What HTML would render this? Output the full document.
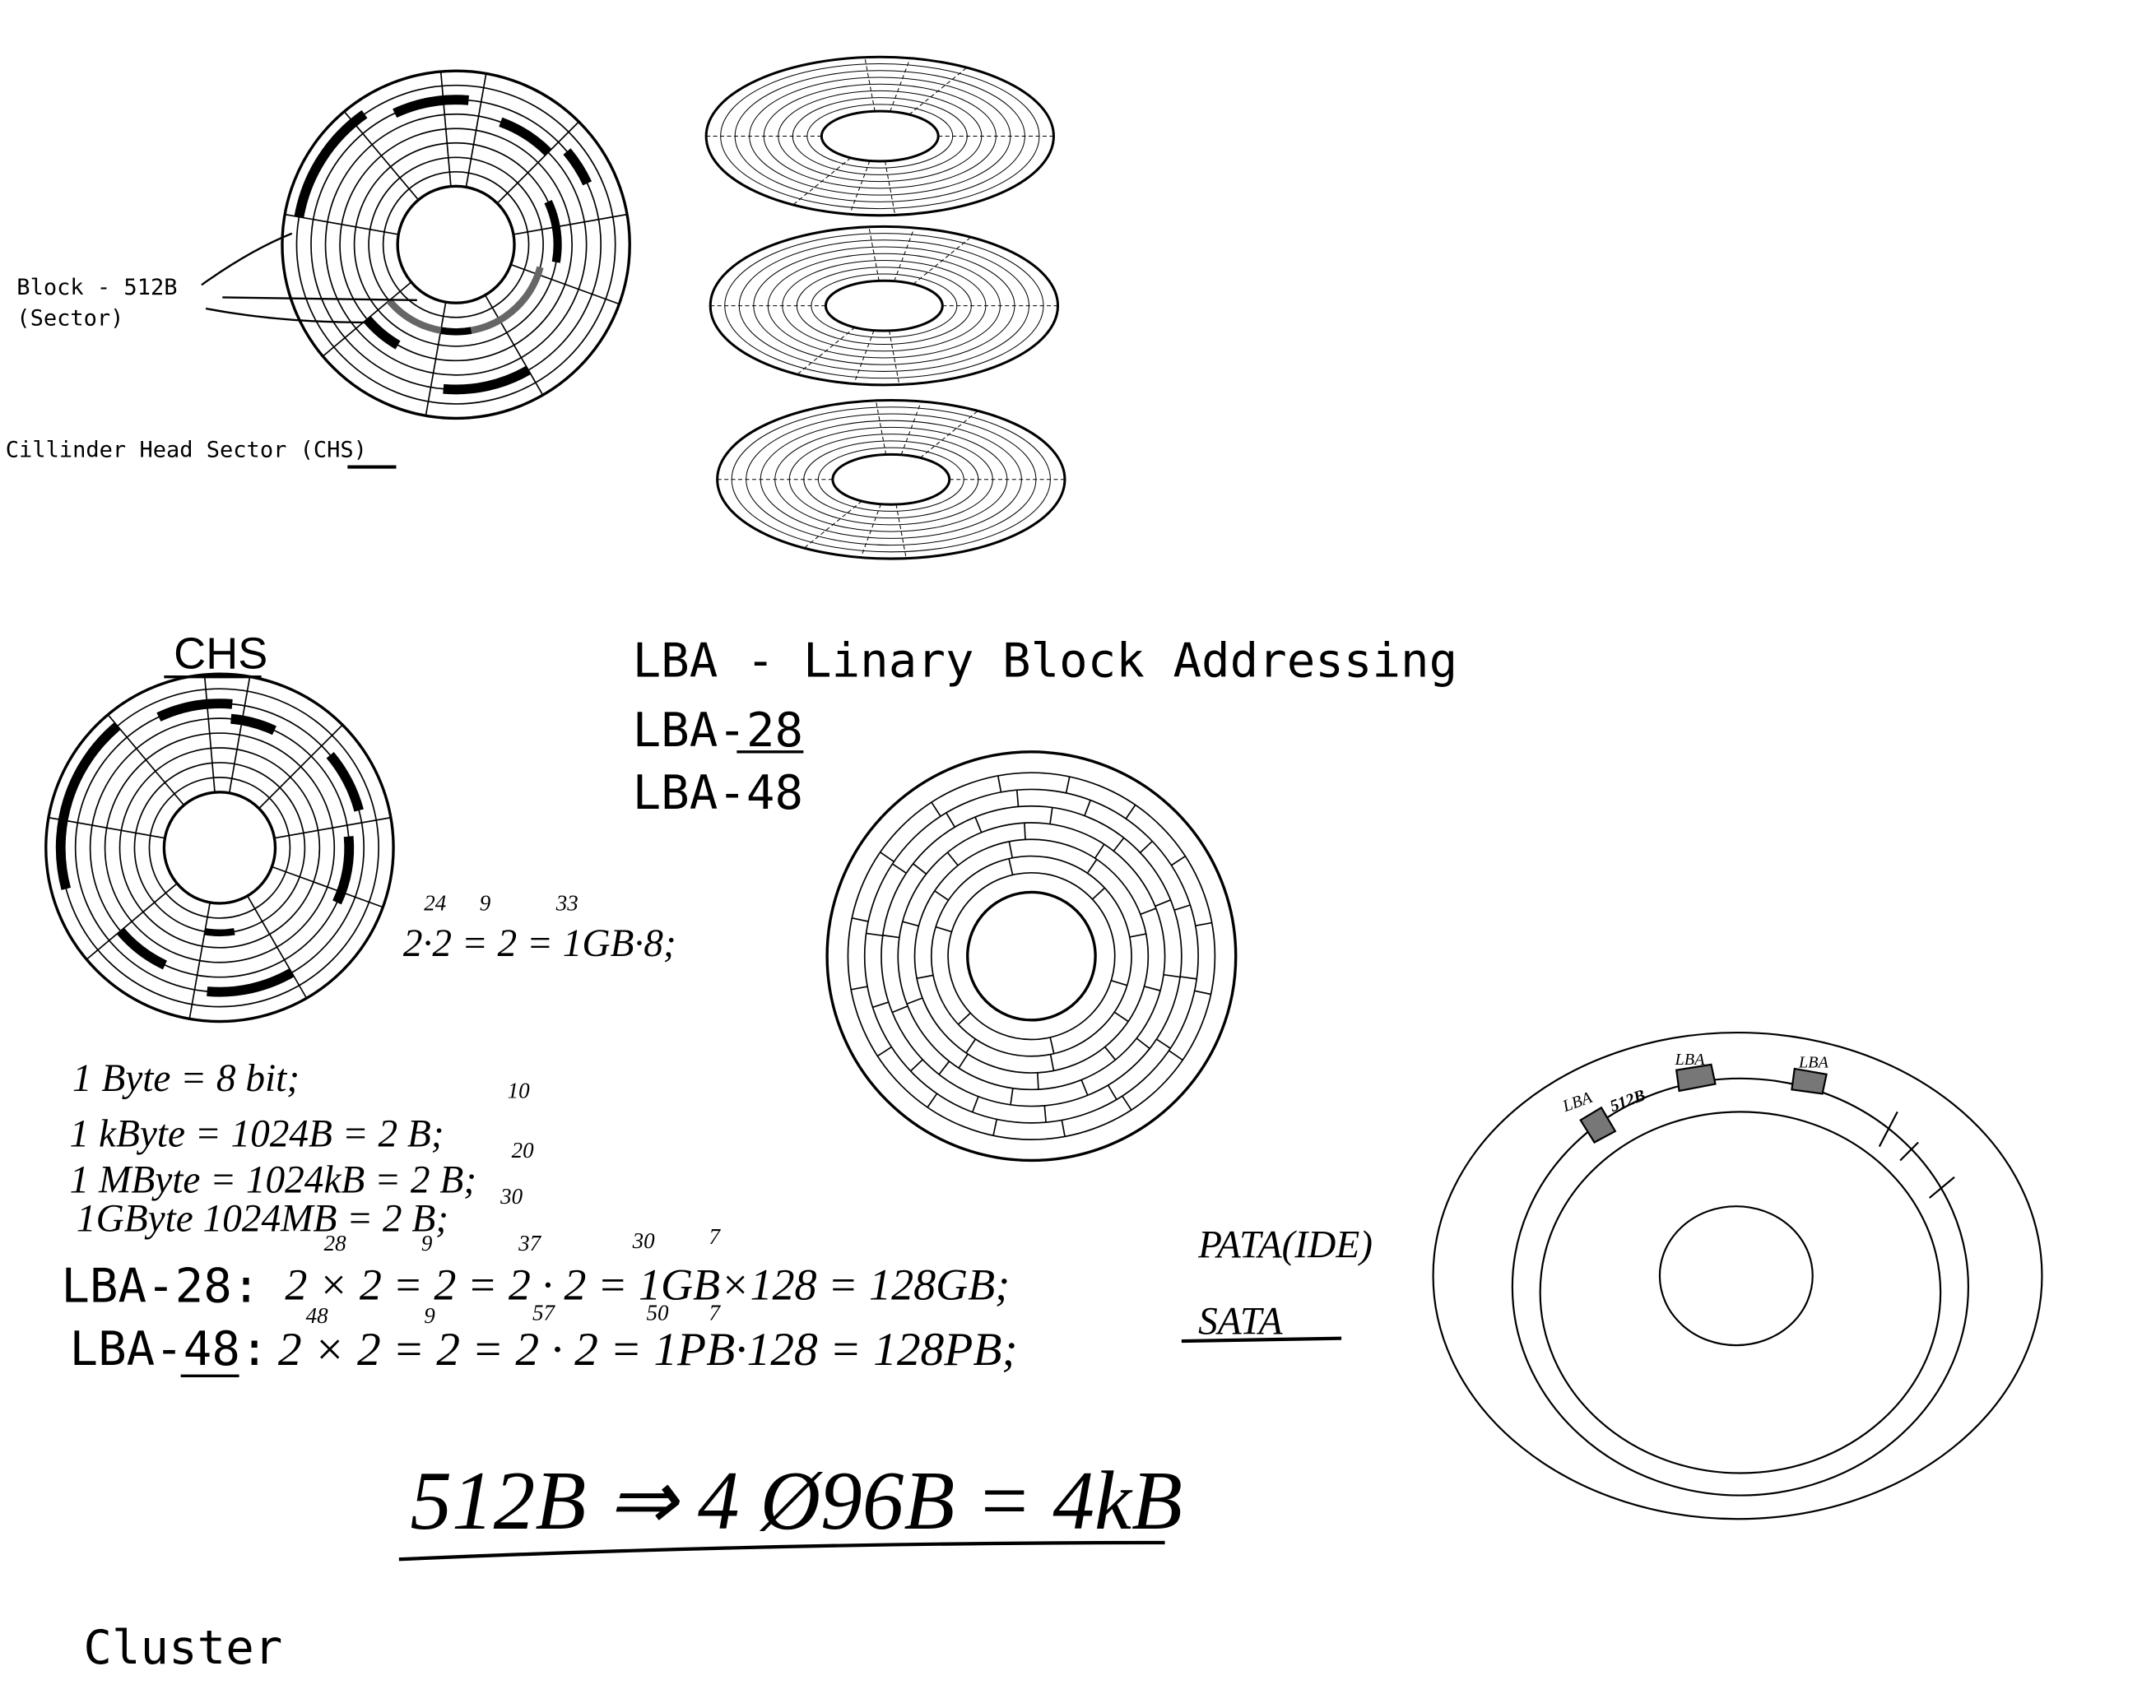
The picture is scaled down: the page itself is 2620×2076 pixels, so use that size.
<!DOCTYPE html>
<html><head><meta charset="utf-8"><style>
html,body{margin:0;padding:0;background:#fff;}
svg{display:block}
.mono{font-family:"DejaVu Sans Mono","Liberation Mono",monospace;}
.hand{font-family:"Liberation Serif",serif;font-style:italic;}
</style></head><body>
<svg width="2620" height="2076" viewBox="0 0 1551 1229" xmlns="http://www.w3.org/2000/svg">
<rect width="1551" height="1229" fill="#fff"/>
<g id="d1" fill="none" stroke="#000"></g>
<g id="d2" fill="none" stroke="#000"></g>
<g id="d3" fill="none" stroke="#000"></g>
<g id="pl" fill="none" stroke="#000"></g>
<g fill="none" stroke="#000" stroke-width="1.3">
<ellipse cx="1250" cy="918" rx="219" ry="175"/>
<ellipse cx="1252" cy="926" rx="164" ry="150"/>
<ellipse cx="1252" cy="930" rx="144" ry="130"/>
<ellipse cx="1249" cy="918" rx="55" ry="50"/>
<path d="M1137 806 L1147 822 L1162 814 L1152 797Z" fill="#777"/>
<path d="M1206 770 L1208 785 L1234 780 L1231 766Z" fill="#777"/>
<path d="M1291 769 L1289 784 L1311 787 L1314 773Z" fill="#777"/>
<path d="M1365 800 L1352 825 M1380 822 L1367 835 M1406 847 L1388 862"/>
</g>
<g class="hand" font-size="12">
<text x="1126" y="800" transform="rotate(-20 1126 800)">LBA</text>
<text x="1160" y="800" transform="rotate(-20 1160 800)" font-weight="bold">512B</text>
<text x="1205" y="766">LBA</text><text x="1294" y="768">LBA</text>
</g>
<g class="mono" font-size="16">
<text x="12" y="212">Block - 512B</text><text x="12" y="234">(Sector)</text>
<text x="4" y="329">Cillinder Head Sector (CHS)</text>
</g>
<path d="M250 336 L285 336" stroke="#000" stroke-width="2.5"/>
<path d="M145 205 Q180 180 210 168 M160 214 L300 216 M148 222 Q200 232 262 232" stroke="#000" fill="none" stroke-width="1.4"/>
<text x="125" y="481" font-family="Liberation Sans,sans-serif" font-size="32">CHS</text>
<path d="M118 487 L188 487" stroke="#000" stroke-width="2"/>
<g class="mono" font-size="34">
<text x="455" y="487">LBA - Linary Block Addressing</text>
<text x="455" y="537">LBA-28</text><text x="455" y="582">LBA-48</text>
<text x="44" y="937">LBA-28:</text><text x="50" y="982">LBA-48:</text>
<text x="60" y="1197">Cluster</text>
</g>
<path d="M530 541 L578 541 M130 990 L172 990" stroke="#000" stroke-width="2"/>
<g class="hand" font-size="28">
<text x="290" y="688">2·2 = 2 = 1GB·8;</text>
<text x="52" y="785">1 Byte = 8 bit;</text>
<text x="50" y="825">1 kByte = 1024B = 2 B;</text>
<text x="50" y="858">1 MByte = 1024kB = 2 B;</text>
<text x="55" y="886">1GByte  1024MB = 2 B;</text>
<text x="205" y="935" font-size="32">2 × 2 = 2 = 2 · 2 = 1GB×128 = 128GB;</text>
<text x="862" y="905">PATA(IDE)</text>
<text x="200" y="982" font-size="34">2 × 2 = 2 = 2 · 2 = 1PB·128 = 128PB;</text>
<text x="862" y="960">SATA</text>
<text x="295" y="1100" font-size="60">512B ⇒ 4 Ø96B = 4kB</text>
</g>
<g class="hand" font-size="16">
<text x="305" y="655">24</text><text x="345" y="655">9</text><text x="400" y="655">33</text>
<text x="365" y="790">10</text><text x="368" y="833">20</text><text x="360" y="866">30</text>
<text x="233" y="900">28</text><text x="303" y="900">9</text><text x="373" y="900">37</text><text x="455" y="898">30</text><text x="510" y="895">7</text>
<text x="220" y="952">48</text><text x="305" y="952">9</text><text x="383" y="950">57</text><text x="465" y="950">50</text><text x="510" y="950">7</text>
</g>
<path d="M850 965 L965 963 M287 1122 Q560 1110 838 1110" stroke="#000" stroke-width="2.5" fill="none"/>
</svg>
<script>
const NS='http://www.w3.org/2000/svg';
function el(g,t,a){const e=document.createElementNS(NS,t);for(const k in a)e.setAttribute(k,a[k]);g.appendChild(e);return e;}
function arc(cx,cy,r,a0,a1){const p=(a)=>[cx+r*Math.cos(a*Math.PI/180),cy+r*Math.sin(a*Math.PI/180)];const s=p(a0),e=p(a1);return `M${s[0]} ${s[1]} A${r} ${r} 0 0 1 ${e[0]} ${e[1]}`;}
function disk(id,cx,cy,R,r0,n,radials,blacks){
 const g=document.getElementById(id);
 for(let i=0;i<=n;i++){const c=el(g,'circle',{cx,cy,r:r0+(R-r0)*i/n,'stroke-width':i==0||i==n?2:1});}
 radials.forEach(a=>{const c=Math.cos(a*Math.PI/180),s=Math.sin(a*Math.PI/180);el(g,'line',{x1:cx+r0*c,y1:cy+r0*s,x2:cx+R*c,y2:cy+R*s,'stroke-width':1});});
 blacks.forEach(b=>{const p=el(g,'path',{d:arc(cx,cy,r0+(R-r0)*b[0]/n,b[1],b[2]),'stroke-width':b[3]||7,stroke:b[4]||'#000'});});
}
const rad=[-80,-45,-10,20,60,100,140,190,230,265];
disk('d1',328,176,125,42,8,rad,[[7,190,235],[6,245,275],[5,-70,-45],[6,-40,-25],[3,-25,10,6],[2,15,140,5,'#666'],[2,80,100,5],[4,120,140],[6,60,95]]);
disk('d2',158,610,125,40,8,rad,[[7,165,230],[6,245,275],[5,-85,-65],[6,-40,-15],[5,-5,25],[2,80,100,5],[5,115,140],[6,60,95]]);
(function(){
 const g=document.getElementById('d3');const cx=742,cy=688;
 const radii=[46,60,72,84,96,108,120,132,147];
 radii.forEach((r,i)=>{el(g,'circle',{cx,cy,r,'stroke-width':(i==0||i==radii.length-1)?2:1});});
 for(let i=1;i<radii.length-2;i++){
  const n=4+i*2;
  for(let k=0;k<n;k++){const a=(k/n*360+i*17)*Math.PI/180;const c=Math.cos(a),s=Math.sin(a);
   el(g,'line',{x1:cx+radii[i]*c,y1:cy+radii[i]*s,x2:cx+radii[i+1]*c,y2:cy+radii[i+1]*s,'stroke-width':1});}
 }
})();
const pl=document.getElementById('pl');
[[633,98],[636,220],[641,345]].forEach(([cx,cy])=>{
 for(let i=0;i<=8;i++){const rx=42+83*i/8,ry=18+39*i/8;el(pl,'ellipse',{cx,cy,rx,ry,'stroke-width':i==0||i==8?1.8:0.6});}
 [-95,-80,-60,85,100,120,180,0].forEach(a=>{const c=Math.cos(a*Math.PI/180),s=Math.sin(a*Math.PI/180);el(pl,'line',{x1:cx+42*c,y1:cy+18*s,x2:cx+125*c,y2:cy+57*s,'stroke-width':0.6,'stroke-dasharray':'3 2'});});
});
</script>
</body></html>
